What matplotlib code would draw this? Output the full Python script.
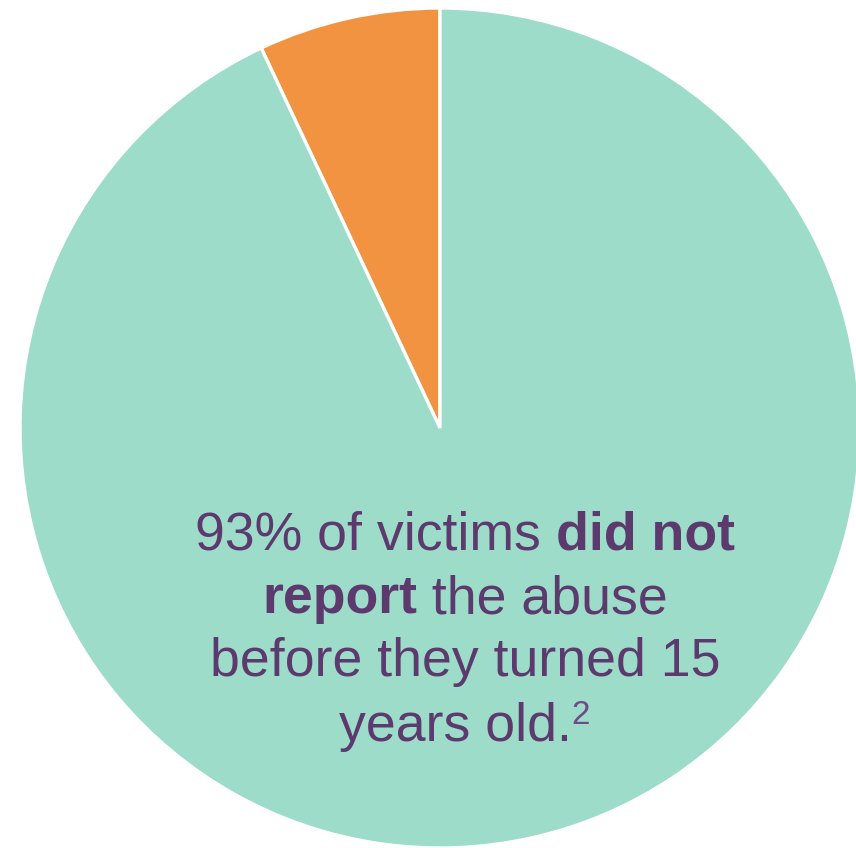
import matplotlib
matplotlib.use("Agg")
import matplotlib.pyplot as plt

labels = ["Reported before 15", "Did not report before 15"]
values = [7, 93]
colors = ["#F19341", "#9DDCC9"]
text_color = "#5C3A6E"

lines = [
    [("93% of victims ", "normal"), ("did not", "bold")],
    [("report", "bold"), (" the abuse", "normal")],
    [("before they turned 15", "normal")],
    [("years old.", "normal"), ("2", "sup")],
]

W, H = 856, 848
fig = plt.figure(figsize=(W / 100, H / 100), dpi=100)
ax = fig.add_axes([20 / W, 0 / H, 840 / W, 840 / H])
ax.pie(values, colors=colors, startangle=90, counterclock=True,
       wedgeprops=dict(edgecolor="white", linewidth=2.4), radius=1.0)
ax.set_xlim(-1, 1)
ax.set_ylim(-1, 1)
ax.set_aspect("equal")
ax.axis("off")

fs = 38.6
family = "Liberation Sans"
renderer = fig.canvas.get_renderer()
cx = 465
baselines = [550, 613, 676, 741]

for line, by in zip(lines, baselines):
    pieces = []
    for txt, style in line:
        size = fs * 0.62 if style == "sup" else fs
        weight = "bold" if style == "bold" else "normal"
        col = "#6E4A86" if style == "sup" else text_color
        t = fig.text(0, 0, txt, fontsize=size, fontweight=weight, family=family,
                     color=col, ha="left", va="baseline",
                     transform=None)
        w = t.get_window_extent(renderer).width
        pieces.append((t, w, style))
    total = sum(p[1] for p in pieces)
    x = cx - total / 2
    for t, w, style in pieces:
        y = H - by
        if style == "sup":
            y += 17
            x -= 1
        t.set_position((x, y))
        x += w

fig.savefig("out.png", dpi=100)
